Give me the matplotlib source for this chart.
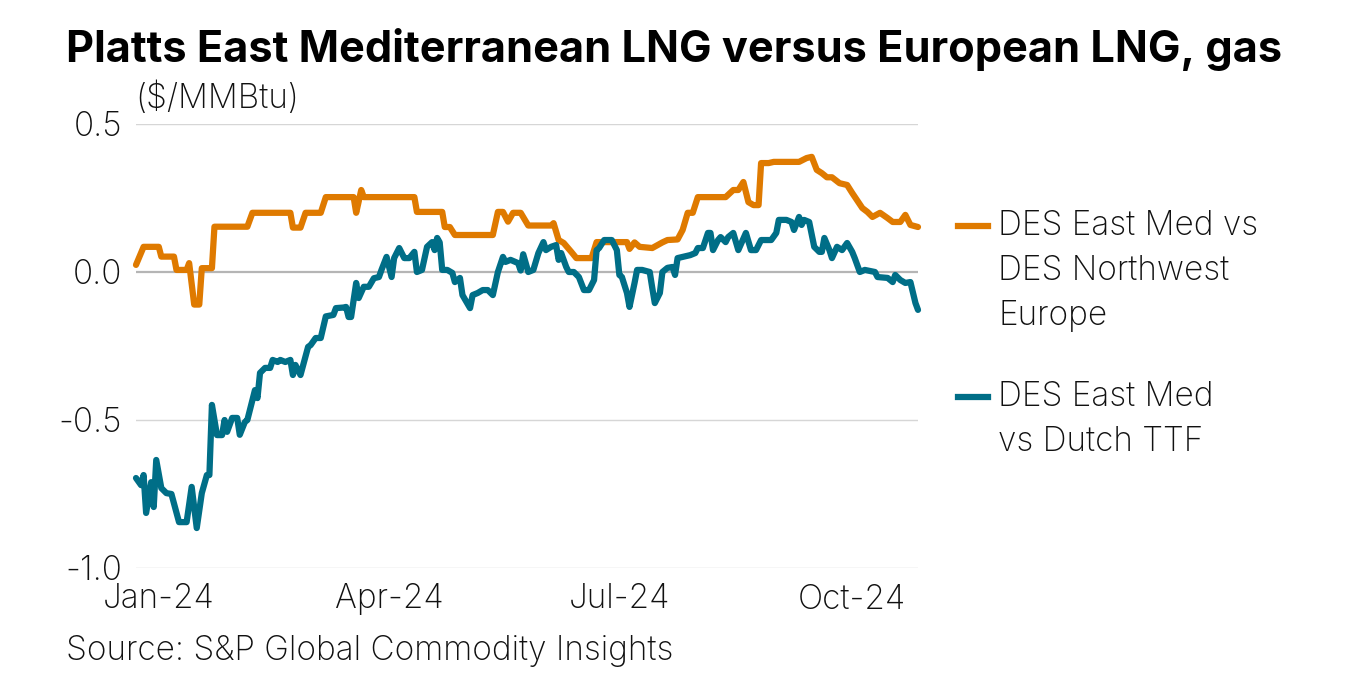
import matplotlib
matplotlib.use('Agg')
import matplotlib.pyplot as plt
import pandas as pd
from matplotlib.lines import Line2D

plt.rcParams['font.family'] = ['Inter', 'DejaVu Sans']

# ---------------- data ----------------
nwe_dates = ['2023-12-23', '2023-12-26', '2024-01-01', '2024-01-02', '2024-01-07', '2024-01-08',
             '2024-01-12', '2024-01-13', '2024-01-15', '2024-01-17', '2024-01-18', '2024-01-22',
             '2024-01-23', '2024-02-05', '2024-02-07', '2024-02-22', '2024-02-23', '2024-02-26',
             '2024-02-28', '2024-03-05', '2024-03-07', '2024-03-18', '2024-03-19', '2024-03-21',
             '2024-03-22', '2024-04-11', '2024-04-12', '2024-04-22', '2024-04-23', '2024-04-25',
             '2024-04-27', '2024-05-12', '2024-05-14', '2024-05-16', '2024-05-18', '2024-05-20',
             '2024-05-23', '2024-05-26', '2024-06-04', '2024-06-05', '2024-06-07', '2024-06-09',
             '2024-06-12', '2024-06-14', '2024-06-20', '2024-06-22', '2024-07-04', '2024-07-05',
             '2024-07-07', '2024-07-09', '2024-07-14', '2024-07-18', '2024-07-20', '2024-07-24',
             '2024-07-26', '2024-07-28', '2024-07-30', '2024-08-01', '2024-08-12', '2024-08-15',
             '2024-08-17', '2024-08-19', '2024-08-21', '2024-08-23', '2024-08-25', '2024-08-26',
             '2024-08-29', '2024-08-31', '2024-09-10', '2024-09-13', '2024-09-15', '2024-09-17',
             '2024-09-19', '2024-09-21', '2024-09-23', '2024-09-26', '2024-09-29', '2024-10-01',
             '2024-10-05', '2024-10-07', '2024-10-09', '2024-10-12', '2024-10-15', '2024-10-17',
             '2024-10-20', '2024-10-22', '2024-10-24', '2024-10-27']
nwe_vals = [0.024, 0.085, 0.085, 0.052, 0.052, 0.007,
            0.007, 0.03, -0.11, -0.11, 0.013, 0.013,
            0.153, 0.153, 0.2, 0.2, 0.15, 0.15,
            0.2, 0.2, 0.253, 0.253, 0.2, 0.277,
            0.253, 0.253, 0.203, 0.203, 0.152, 0.152,
            0.125, 0.125, 0.203, 0.203, 0.17, 0.2,
            0.2, 0.157, 0.157, 0.165, 0.108, 0.098,
            0.068, 0.047, 0.047, 0.101, 0.101, 0.078,
            0.1, 0.085, 0.081, 0.1, 0.108, 0.11,
            0.142, 0.2, 0.2, 0.253, 0.253, 0.277,
            0.277, 0.304, 0.236, 0.226, 0.226, 0.368,
            0.368, 0.372, 0.372, 0.385, 0.389, 0.345,
            0.334, 0.32, 0.32, 0.30, 0.294, 0.267,
            0.216, 0.203, 0.186, 0.2, 0.182, 0.169,
            0.169, 0.193, 0.159, 0.152]

ttf_dates = ['2023-12-23', '2023-12-25', '2023-12-26', '2023-12-27', '2023-12-29', '2023-12-30',
             '2023-12-31', '2024-01-02', '2024-01-04', '2024-01-06', '2024-01-09', '2024-01-12',
             '2024-01-14', '2024-01-16', '2024-01-18', '2024-01-20', '2024-01-21', '2024-01-22',
             '2024-01-24', '2024-01-26', '2024-01-27', '2024-01-28', '2024-01-30', '2024-02-01',
             '2024-02-02', '2024-02-04', '2024-02-05', '2024-02-08', '2024-02-09', '2024-02-10',
             '2024-02-12', '2024-02-14', '2024-02-15', '2024-02-17', '2024-02-18', '2024-02-20',
             '2024-02-22', '2024-02-23', '2024-02-24', '2024-02-26', '2024-02-29', '2024-03-01',
             '2024-03-03', '2024-03-05', '2024-03-07', '2024-03-10', '2024-03-11', '2024-03-14',
             '2024-03-15', '2024-03-16', '2024-03-17', '2024-03-19', '2024-03-20', '2024-03-22',
             '2024-03-24', '2024-03-26', '2024-03-28', '2024-03-29', '2024-03-31', '2024-04-02',
             '2024-04-03', '2024-04-05', '2024-04-07', '2024-04-09', '2024-04-11', '2024-04-12',
             '2024-04-14', '2024-04-16', '2024-04-18', '2024-04-19', '2024-04-20', '2024-04-21',
             '2024-04-22', '2024-04-24', '2024-04-26', '2024-04-27', '2024-04-29', '2024-04-30',
             '2024-05-03', '2024-05-04', '2024-05-06', '2024-05-08', '2024-05-10', '2024-05-12',
             '2024-05-14', '2024-05-16', '2024-05-17', '2024-05-19', '2024-05-22', '2024-05-23',
             '2024-05-24', '2024-05-26', '2024-05-28', '2024-05-30', '2024-06-01', '2024-06-02',
             '2024-06-04', '2024-06-06', '2024-06-07', '2024-06-08', '2024-06-10', '2024-06-11',
             '2024-06-13', '2024-06-15', '2024-06-17', '2024-06-19', '2024-06-21', '2024-06-22',
             '2024-06-23', '2024-06-25', '2024-06-28', '2024-06-30', '2024-07-01', '2024-07-02',
             '2024-07-04', '2024-07-05', '2024-07-07', '2024-07-08', '2024-07-10', '2024-07-13',
             '2024-07-14', '2024-07-15', '2024-07-17', '2024-07-18', '2024-07-20', '2024-07-22',
             '2024-07-23', '2024-07-24', '2024-07-26', '2024-07-29', '2024-07-31', '2024-08-01',
             '2024-08-03', '2024-08-05', '2024-08-06', '2024-08-07', '2024-08-09', '2024-08-10',
             '2024-08-12', '2024-08-13', '2024-08-15', '2024-08-17', '2024-08-20', '2024-08-22',
             '2024-08-24', '2024-08-26', '2024-08-30', '2024-09-01', '2024-09-02', '2024-09-05',
             '2024-09-07', '2024-09-08', '2024-09-10', '2024-09-11', '2024-09-12', '2024-09-14',
             '2024-09-16', '2024-09-18', '2024-09-19', '2024-09-20', '2024-09-22', '2024-09-23',
             '2024-09-25', '2024-09-27', '2024-09-29', '2024-10-01', '2024-10-02', '2024-10-04',
             '2024-10-06', '2024-10-10', '2024-10-11', '2024-10-15', '2024-10-17', '2024-10-18',
             '2024-10-20', '2024-10-22', '2024-10-24', '2024-10-26', '2024-10-27']
ttf_vals = [-0.696, -0.72, -0.686, -0.814, -0.71, -0.794,
            -0.635, -0.73, -0.747, -0.75, -0.845, -0.845,
            -0.726, -0.865, -0.747, -0.686, -0.686, -0.449,
            -0.551, -0.551, -0.5, -0.54, -0.493, -0.493,
            -0.55, -0.507, -0.5, -0.399, -0.426, -0.341,
            -0.324, -0.324, -0.297, -0.304, -0.297, -0.304,
            -0.297, -0.348, -0.314, -0.348, -0.253, -0.247,
            -0.223, -0.223, -0.15, -0.145, -0.122, -0.12,
            -0.118, -0.152, -0.152, -0.037, -0.088, -0.05,
            -0.05, -0.021, -0.017, 0.007, 0.051, -0.017,
            0.047, 0.081, 0.047, 0.047, 0.068, 0.0,
            0.007, 0.085, 0.101, 0.074, 0.115, 0.1,
            0.007, 0.007, -0.003, -0.034, -0.02, -0.078,
            -0.122, -0.078, -0.071, -0.061, -0.061, -0.078,
            0.0, 0.051, 0.034, 0.041, 0.03, 0.005,
            0.06, 0.0, 0.007, 0.064, 0.101, 0.074,
            0.085, 0.091, 0.041, 0.064, 0.017, 0.0,
            0.0, -0.017, -0.061, -0.061, -0.027, 0.074,
            0.081, 0.108, 0.108, 0.074, -0.01, -0.017,
            -0.071, -0.118, -0.037, 0.007, 0.007, 0.0,
            -0.054, -0.105, -0.071, 0.0, 0.014, 0.017,
            -0.01, 0.047, 0.051, 0.057, 0.064, 0.081,
            0.081, 0.132, 0.132, 0.074, 0.108, 0.118,
            0.101, 0.118, 0.132, 0.074, 0.132, 0.074,
            0.074, 0.108, 0.108, 0.132, 0.176, 0.176,
            0.169, 0.142, 0.186, 0.159, 0.176, 0.169,
            0.085, 0.068, 0.068, 0.115, 0.074, 0.047,
            0.085, 0.074, 0.098, 0.068, 0.047, 0.0,
            0.007, 0.0, -0.017, -0.02, -0.034, -0.01,
            -0.027, -0.037, -0.034, -0.105, -0.128]

y_ticks = [0.5, 0.0, -0.5, -1.0]
y_labels = ['0.5', '0.0', '-0.5', '-1.0']
x_ticks = ['2024-01-01', '2024-04-01', '2024-07-01', '2024-10-01']
x_labels = ['Jan-24', 'Apr-24', 'Jul-24', 'Oct-24']

ORANGE = '#DF7A00'
TEAL = '#006E87'
TXT = '#111111'
FS = 24
W, H = 1352, 675

# ---------------- figure ----------------
fig = plt.figure(figsize=(W / 100, H / 100), dpi=100)
fig.patch.set_facecolor('white')
ax = fig.add_axes([136 / W, 1 - 568 / H, (918 - 136) / W, (568 - 124) / H])

for t in y_ticks:
    if t == 0:
        ax.axhline(t, color='#b5b5b5', lw=1.6, zorder=1)
    else:
        ax.axhline(t, color='#d6d6d6', lw=1.0, zorder=1)

ax.plot(pd.to_datetime(nwe_dates), nwe_vals, color=ORANGE, lw=4.5,
        solid_joinstyle='round', solid_capstyle='round', clip_on=False, zorder=3)
ax.plot(pd.to_datetime(ttf_dates), ttf_vals, color=TEAL, lw=4.5,
        solid_joinstyle='round', solid_capstyle='round', clip_on=False, zorder=4)

ax.set_xlim(pd.Timestamp('2023-12-23'), pd.Timestamp('2024-10-27'))
ax.set_ylim(-1.0, 0.5)
ax.set_yticks(y_ticks)
ax.set_yticklabels(y_labels)
ax.set_xticks(pd.to_datetime(x_ticks))
ax.set_xticklabels(x_labels)
ax.tick_params(length=0, labelsize=FS, colors=TXT)
ax.tick_params(axis='y', pad=10)
ax.tick_params(axis='x', pad=11)
for lab in ax.get_xticklabels() + ax.get_yticklabels():
    lab.set_fontweight('light')
for s in ax.spines.values():
    s.set_visible(False)

# title, unit, source
fig.text(66 / W, 1 - 62 / H, 'Platts East Mediterranean LNG versus European LNG, gas',
         fontsize=31.2, fontweight='bold', va='baseline', ha='left', color='black')
fig.text(135 / W, 1 - 108 / H, '($/MMBtu)', fontsize=FS, fontweight='light',
         va='baseline', ha='left', color=TXT)
fig.text(66 / W, 1 - 660 / H, 'Source: S&P Global Commodity Insights', fontsize=FS,
         fontweight='light', va='baseline', ha='left', color=TXT)

# legend, drawn by hand so the key sits on the first line of text
legend_items = [(ORANGE, ['DES East Med vs', 'DES Northwest', 'Europe'], 226),
                (TEAL, ['DES East Med', 'vs Dutch TTF'], 397)]
for color, lines, y0 in legend_items:
    fig.add_artist(Line2D([958 / W, 988 / W], [1 - y0 / H, 1 - y0 / H],
                          color=color, lw=4.5, transform=fig.transFigure))
    for i, line in enumerate(lines):
        fig.text(998 / W, 1 - (y0 + 45 * i) / H, line, fontsize=FS, fontweight='light',
                 va='center', ha='left', color=TXT)

fig.savefig('out.png', dpi=100, facecolor='white')
